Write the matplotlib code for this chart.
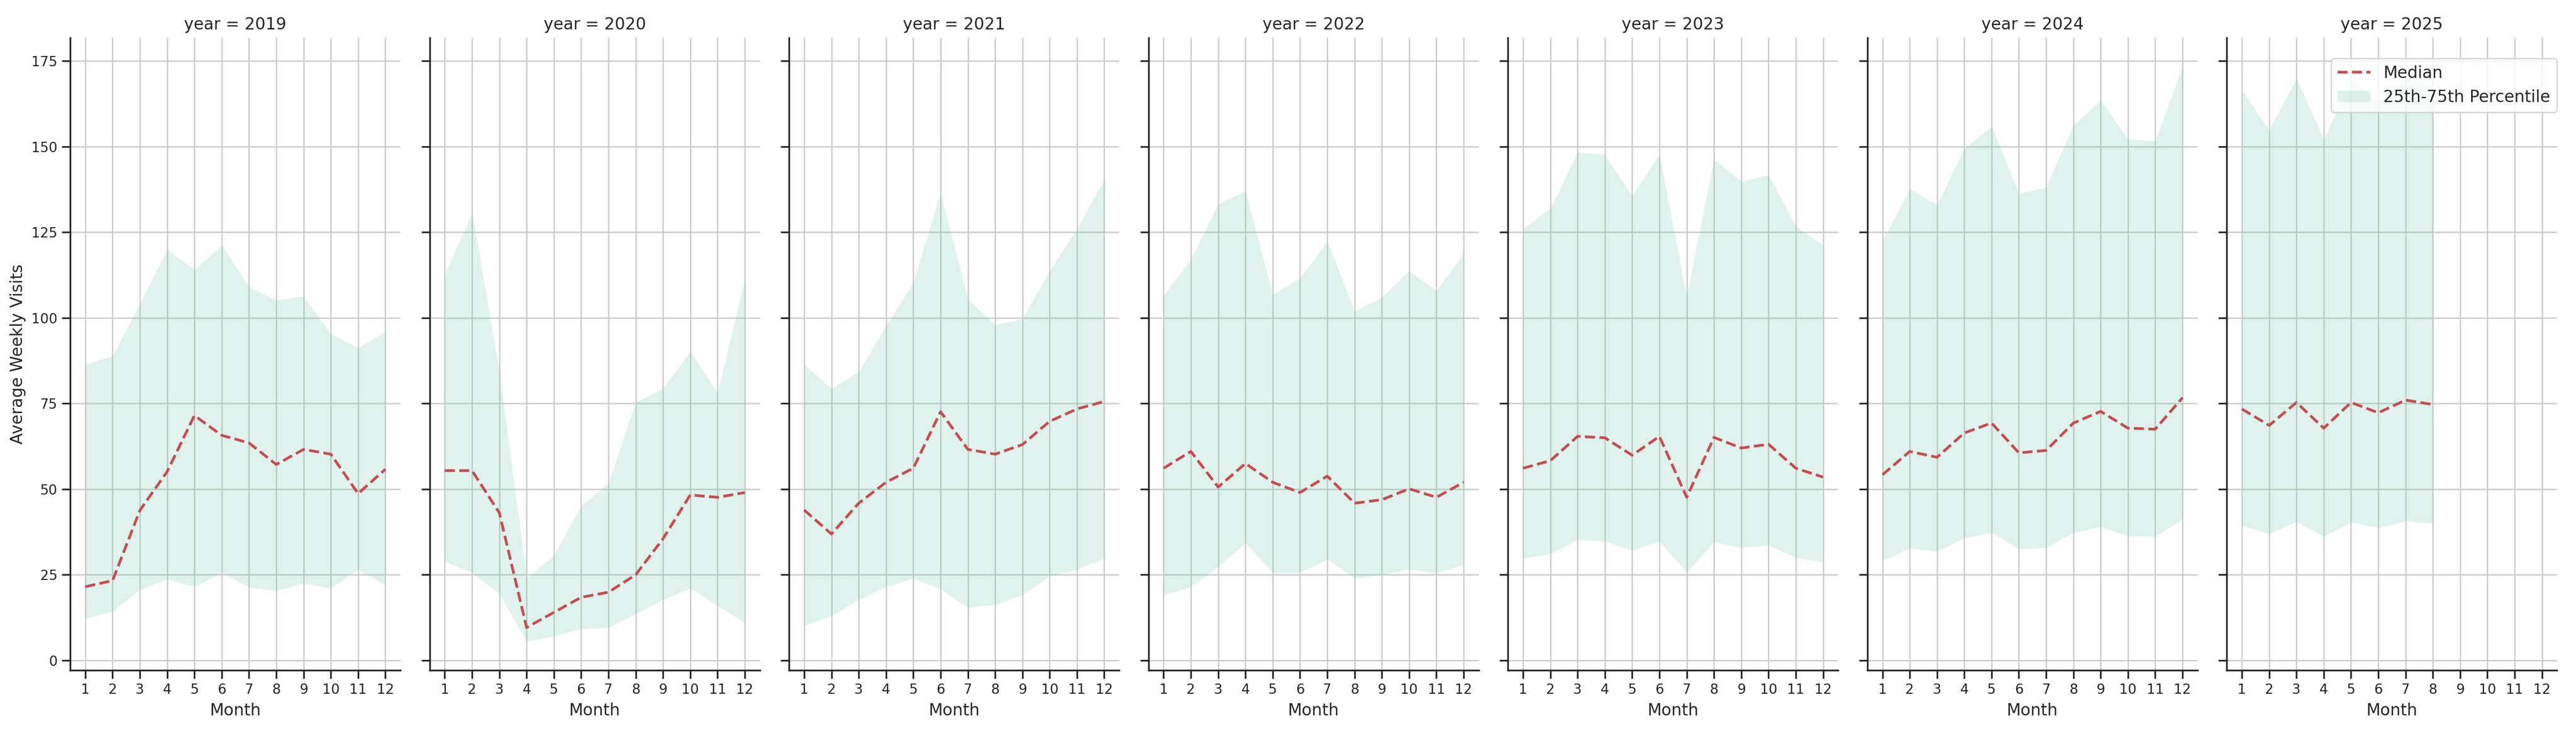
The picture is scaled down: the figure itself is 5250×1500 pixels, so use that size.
import matplotlib
matplotlib.use('Agg')
import matplotlib.pyplot as plt
import numpy as np

# Values (monthly median and quartile band per year)
years = [2019, 2020, 2021, 2022, 2023, 2024, 2025]
months = list(range(1, 13))

median = {
    2019: [21.5, 23.3, 43.8, 55.1, 71.5, 65.7, 63.5, 57.2, 61.6, 60.2, 48.7, 55.8],
    2020: [55.4, 55.4, 43.1, 9.6, 14.0, 18.4, 19.9, 25.0, 35.5, 48.3, 47.6, 49.0],
    2021: [43.9, 36.9, 45.9, 52.0, 56.1, 72.6, 61.6, 60.2, 63.0, 69.8, 73.4, 75.6],
    2022: [56.1, 61.0, 50.6, 57.5, 52.0, 49.0, 53.8, 45.9, 46.9, 50.1, 47.6, 52.0],
    2023: [56.1, 58.3, 65.4, 65.0, 59.9, 65.4, 47.6, 65.1, 62.0, 63.1, 56.1, 53.5],
    2024: [54.2, 61.0, 59.3, 66.4, 69.3, 60.6, 61.3, 69.3, 72.7, 67.8, 67.5, 76.7],
    2025: [73.4, 68.6, 75.3, 67.8, 75.3, 72.3, 76.0, 74.7],
}
p75 = {
    2019: [86.4, 88.9, 104.1, 120.0, 114.0, 121.2, 109.0, 105.1, 106.3, 95.3, 91.2, 96.0],
    2020: [112.7, 130.6, 84.6, 24.0, 30.7, 45.1, 51.7, 75.3, 79.4, 90.1, 78.0, 111.4],
    2021: [86.4, 79.4, 84.2, 97.7, 110.3, 136.5, 105.5, 97.9, 99.7, 113.7, 126.0, 140.4],
    2022: [106.6, 117.1, 133.3, 137.0, 106.8, 111.6, 122.3, 102.0, 105.9, 113.7, 107.9, 118.9],
    2023: [126.0, 131.9, 148.4, 147.7, 135.6, 147.7, 106.3, 146.3, 139.8, 141.8, 126.7, 121.2],
    2024: [122.3, 137.7, 133.0, 149.4, 155.9, 136.3, 138.1, 156.2, 163.5, 152.2, 151.6, 173.4],
    2025: [166.5, 154.8, 169.9, 152.1, 169.5, 163.0, 170.0, 168.0],
}
p25 = {
    2019: [12.3, 14.3, 20.6, 23.7, 21.5, 25.6, 21.3, 20.4, 22.5, 21.0, 26.6, 21.9],
    2020: [28.9, 25.6, 19.5, 5.5, 7.1, 9.2, 9.6, 13.6, 17.7, 21.1, 16.0, 11.0],
    2021: [10.1, 13.0, 17.7, 21.5, 24.0, 20.8, 15.4, 16.3, 19.1, 24.6, 26.6, 29.8],
    2022: [19.1, 21.5, 27.4, 34.3, 25.6, 25.6, 29.5, 24.0, 25.0, 26.7, 25.4, 28.0],
    2023: [29.8, 31.1, 35.2, 34.8, 32.1, 34.8, 25.6, 34.6, 32.9, 33.6, 30.0, 28.7],
    2024: [29.1, 32.8, 31.8, 35.7, 37.3, 32.5, 32.9, 37.3, 39.0, 36.3, 36.2, 41.1],
    2025: [39.4, 36.9, 40.5, 36.2, 40.3, 38.7, 40.7, 40.0],
}

dark = '#262626'
plt.rcParams.update({
    'font.family': 'DejaVu Sans',
    'text.color': dark,
    'axes.labelcolor': dark,
    'axes.edgecolor': dark,
    'axes.linewidth': 1.25,
    'axes.grid': True,
    'axes.axisbelow': True,
    'grid.color': '#cccccc',
    'grid.linewidth': 1.0,
    'xtick.color': dark,
    'ytick.color': dark,
    'xtick.major.size': 6,
    'ytick.major.size': 6,
    'xtick.major.width': 1.25,
    'ytick.major.width': 1.25,
    'xtick.labelsize': 10,
    'ytick.labelsize': 10,
    'axes.labelsize': 12,
    'axes.titlesize': 12,
    'legend.fontsize': 12,
})

fig, axes = plt.subplots(1, len(years), figsize=(26.25, 7.5), sharex=True, sharey=True)
fig.subplots_adjust(left=0.0273, right=0.9926, bottom=0.0893, top=0.9487, wspace=0.089)

for ax, yr in zip(axes, years):
    n = len(median[yr])
    x = months[:n]
    ax.fill_between(x, p25[yr], p75[yr], color='#66c2a5', alpha=0.2, linewidth=0,
                    label='25th-75th Percentile')
    ax.plot(x, median[yr], color='#c44e52', linestyle='--', linewidth=2, label='Median')
    ax.set_title('year = %d' % yr)
    ax.set_xlabel('Month')
    ax.set_xticks(months)
    ax.set_yticks(np.arange(0, 176, 25))
    for side in ['top', 'right']:
        ax.spines[side].set_visible(False)

axes[0].set_xlim(0.45, 12.55)
axes[0].set_ylabel('Average Weekly Visits')

# legend only on the last facet
h, l = axes[-1].get_legend_handles_labels()
axes[-1].legend(h[::-1], l[::-1], loc='upper right', bbox_to_anchor=(1.0, 0.967),
                borderaxespad=0)

fig.savefig('out.png', dpi=200)
plt.close(fig)
